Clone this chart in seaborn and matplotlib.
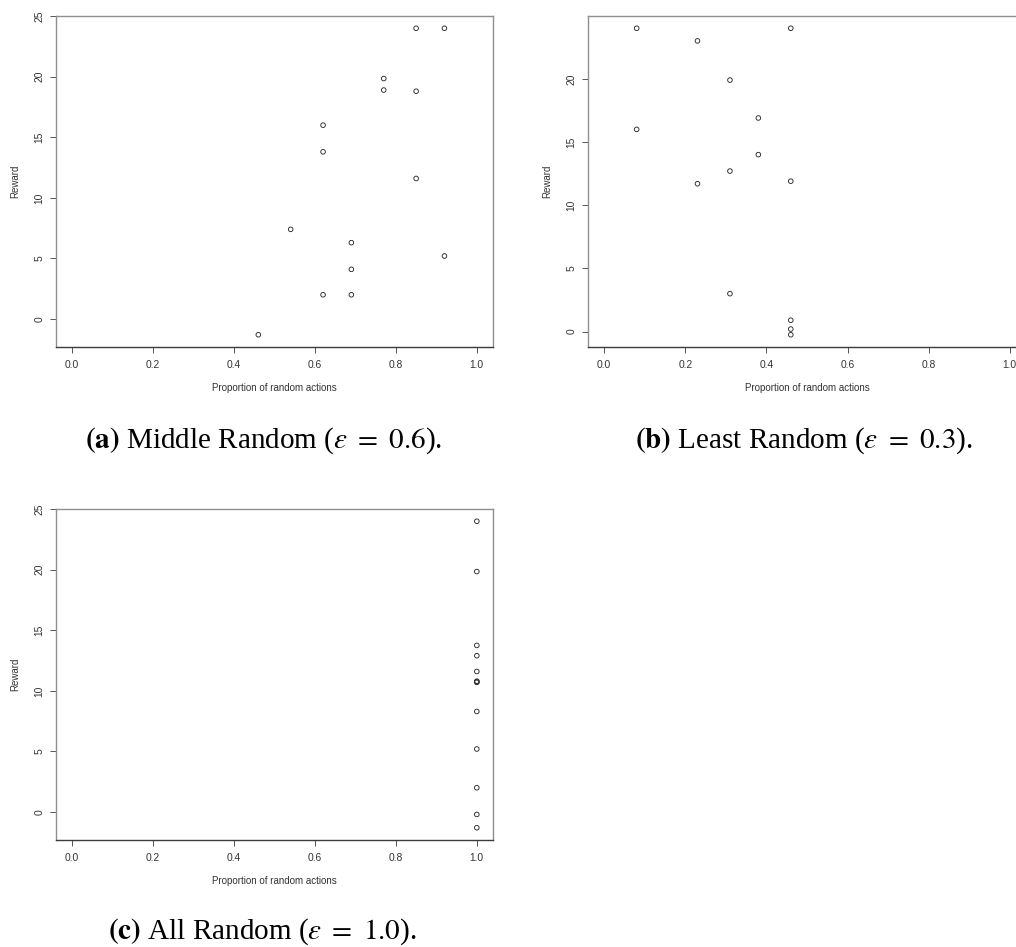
import numpy as np
import pandas as pd
import matplotlib
matplotlib.use("Agg")
import matplotlib.pyplot as plt
import seaborn as sns

# Proportion of random actions taken in each episode and the reward obtained
middle_prop = [0.46, 0.54, 0.62, 0.62, 0.62, 0.69, 0.69, 0.69,
               0.77, 0.77, 0.85, 0.85, 0.85, 0.92, 0.92]
middle_reward = [-1.3, 7.4, 2.0, 13.8, 16.0, 2.0, 4.1, 6.3,
                 18.9, 19.85, 24.0, 18.8, 11.6, 24.0, 5.2]

least_prop = [0.08, 0.08, 0.23, 0.23, 0.31, 0.31, 0.31, 0.38, 0.38,
              0.46, 0.46, 0.46, 0.46, 0.46]
least_reward = [24.0, 16.0, 23.0, 11.7, 19.9, 12.7, 3.0, 16.9, 14.0,
                24.0, 11.9, 0.9, 0.2, -0.25]

all_prop = [1.0] * 13
all_reward = [24.0, 19.85, 13.75, 12.9, 11.6, 10.8, 10.7, 8.3, 5.2,
              2.0, -0.2, -1.3, 10.75]

x_ticks = [0.0, 0.2, 0.4, 0.6, 0.8, 1.0]
x_tick_labels = ["0.0", "0.2", "0.4", "0.6", "0.8", "1.0"]
y_ticks = [0, 5, 10, 15, 20, 25]

captions = [
    r"$\mathbf{(a)}$ Middle Random ($\varepsilon\ =\ 0.6$).",
    r"$\mathbf{(b)}$ Least Random ($\varepsilon\ =\ 0.3$).",
    r"$\mathbf{(c)}$ All Random ($\varepsilon\ =\ 1.0$).",
]

sns.set_theme(style="white")
plt.rcParams["font.family"] = ["Liberation Sans", "DejaVu Sans"]
plt.rcParams["mathtext.fontset"] = "stix"

W, H = 1016, 947
fig = plt.figure(figsize=(W / 100, H / 100), dpi=100)
fig.patch.set_facecolor("white")


def px_axes(left, top, right, bottom):
    return fig.add_axes([left / W, (H - bottom) / H, (right - left) / W, (bottom - top) / H])


def r_limits(values, lo=None, hi=None):
    lo = min(values) if lo is None else lo
    hi = max(values) if hi is None else hi
    pad = 0.04 * (hi - lo)
    return lo - pad, hi + pad


def draw_panel(ax, xs, ys):
    df = pd.DataFrame({"prop": xs, "reward": ys})
    sns.scatterplot(data=df, x="prop", y="reward", ax=ax, marker="o", s=11,
                    facecolor="none", edgecolor="#2b2b2b", linewidth=0.65,
                    legend=False)
    ax.set_xlim(*r_limits(xs, 0.0, 1.0))
    ylo, yhi = r_limits(ys)
    ax.set_ylim(ylo, yhi)
    ax.set_xticks(x_ticks)
    ax.set_xticklabels(x_tick_labels)
    yt = [t for t in y_ticks if ylo <= t <= yhi + 1e-9]
    ax.set_yticks(yt)
    ax.set_yticklabels([str(t) for t in yt], rotation=90, va="center")
    ax.tick_params(axis="both", which="major", direction="out", length=4.3,
                   width=0.7, color="#555555", labelsize=7.4,
                   labelcolor="#333333", bottom=True, left=True)
    ax.tick_params(axis="x", pad=5.0)
    ax.tick_params(axis="y", pad=4.0)
    for side in ("left", "top", "right"):
        ax.spines[side].set_color("#8f8f8f")
        ax.spines[side].set_linewidth(1.0)
    ax.spines["bottom"].set_color("#3c3c3c")
    ax.spines["bottom"].set_linewidth(1.0)
    ax.set_xlabel("Proportion of random actions", fontsize=7.0, color="#333333")
    ax.set_ylabel("Reward", fontsize=7.0, color="#333333")
    h = ax.get_position().height * H
    w = ax.get_position().width * W
    ax.xaxis.set_label_coords(0.5, -41 / h)
    ax.xaxis.label.set_va("center")
    ax.yaxis.set_label_coords(-41 / w, 0.5)
    ax.yaxis.label.set_va("center")
    ax.grid(False)


ax_a = px_axes(56, 16, 493, 347)
draw_panel(ax_a, middle_prop, middle_reward)

ax_b = px_axes(588, 16, 1026, 347)
draw_panel(ax_b, least_prop, least_reward)

ax_c = px_axes(56, 509, 493, 840)
draw_panel(ax_c, all_prop, all_reward)

cap_kw = dict(fontsize=21, family="Liberation Serif", color="black",
              ha="center", va="baseline")
fig.text(264 / W, 1 - 448 / H, captions[0], **cap_kw)
fig.text(804 / W, 1 - 448 / H, captions[1], **cap_kw)
fig.text(262 / W, 1 - 939 / H, captions[2], **cap_kw)

fig.savefig("out.png", dpi=100, facecolor="white")
